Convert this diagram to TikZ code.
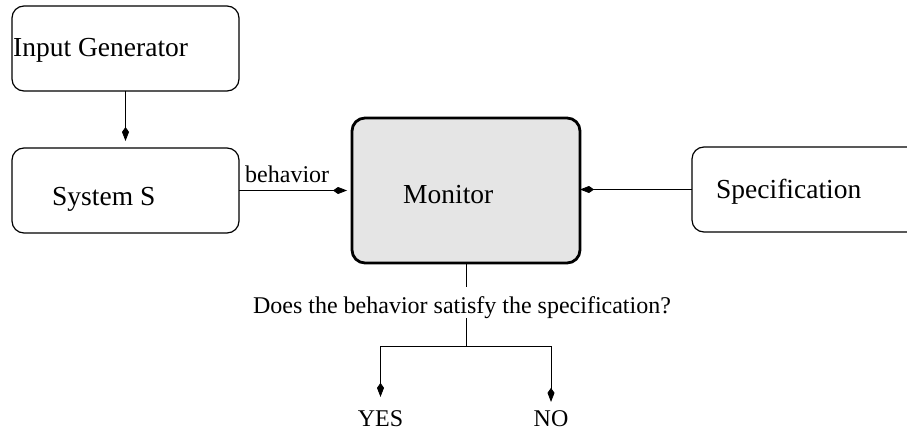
\documentclass[tikz,border=0pt]{standalone}
\usepackage{fontspec}
\setmainfont{Liberation Serif}
\usetikzlibrary{arrows.meta}

\tikzset{
  blk/.style={draw, rounded corners=12pt, line width=1.2pt, outer sep=0pt, anchor=north west},
  mon/.style={blk, line width=2.8pt, fill=black!10, rounded corners=13pt},
  lbl/.style={inner sep=0pt, anchor=base west, font=\fontsize{27.5}{30}\selectfont},
  sml/.style={inner sep=0pt, anchor=base, font=\fontsize{24}{26}\selectfont},
  line/.style={line width=0.8pt},
  conn/.style={line, -{Kite[length=14pt,width=7pt,inset=5pt]}},
}

\begin{document}
\begin{tikzpicture}[x=1pt,y=-1pt]
  \useasboundingbox (0,0) rectangle (907,433);

  % boxes
  \node[blk, minimum width=227pt, minimum height=85pt] (gen) at (12,6) {};
  \node[blk, minimum width=227pt, minimum height=85pt] (sys) at (12,148) {};
  \node[mon, minimum width=228pt, minimum height=145pt] (mon) at (352,118) {};
  \node[blk, minimum width=240pt, minimum height=85pt] (spec) at (692,147) {};

  \node[lbl] (gentxt) at (13,57) {Input Generator};
  \node[lbl] (systxt) at (52,205) {System S};
  \node[lbl] (montxt) at (403,203) {Monitor};
  \node[lbl] (spectxt) at (716,198) {Specification};

  % outputs
  \node[sml, anchor=base west] (beh) at (245,182) {behavior};
  \node[sml] (q) at (462,313) {Does the behavior satisfy the specification?};
  \node[sml] (yes) at (380.5,426) {YES};
  \node[sml] (no) at (551,426) {NO};
  \coordinate (br) at (466,346);

  % connectors
  \draw[conn, shorten >=7pt] (gen.south) -- (sys.north);
  \draw[conn, shorten >=5pt] (sys.east) -- (mon.west);
  \draw[conn] (spec.west) -- (spec.west -| mon.east);
  \draw[line, shorten >=9pt] (mon.south) -- (mon.south |- q.north);
  \draw[line] (mon.south |- q.south) -- (br);
  \draw[conn, shorten >=13pt] (br) -| (yes.north);
  \draw[conn, shorten >=8pt] (br) -| (no.north);
\end{tikzpicture}
\end{document}
